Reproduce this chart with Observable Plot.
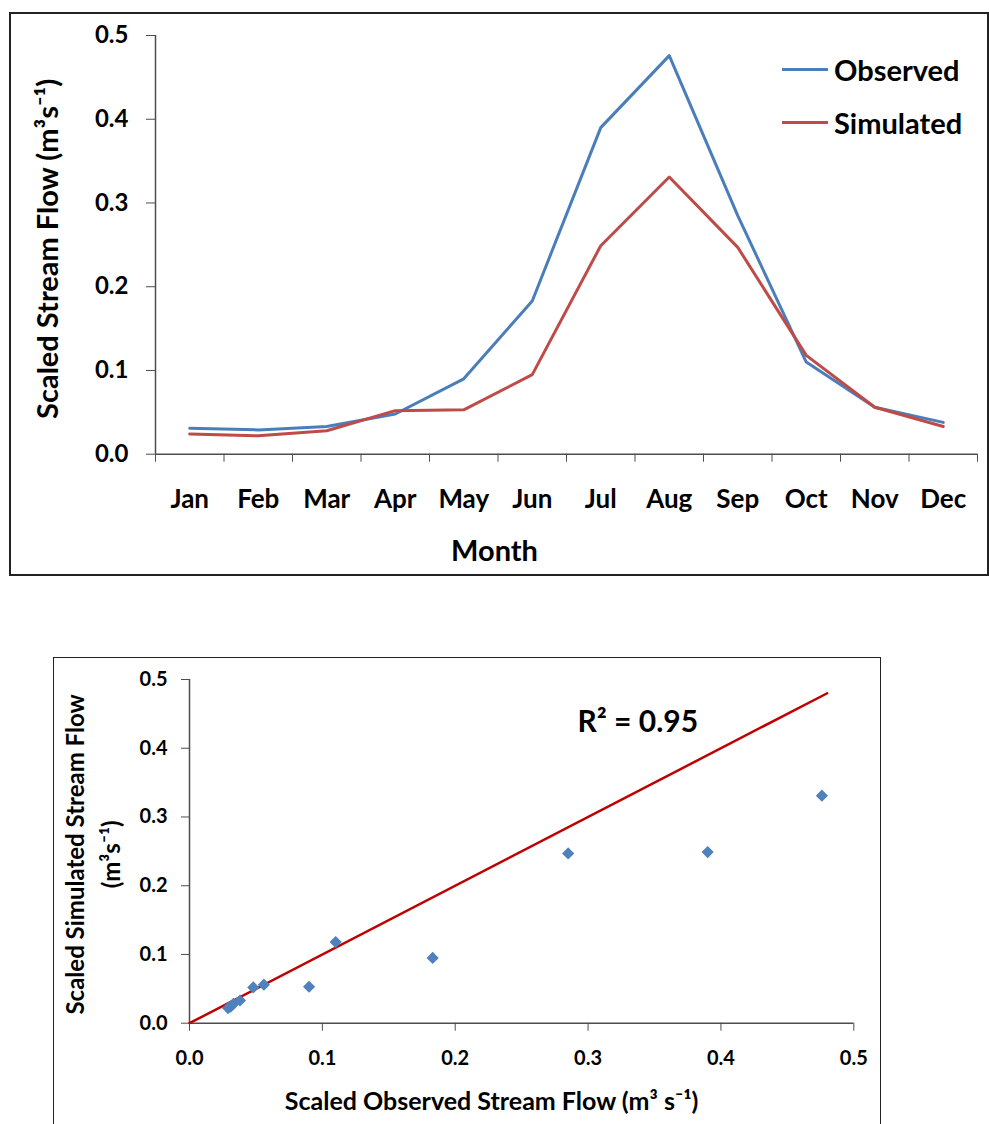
<!DOCTYPE html>
<html>
<head>
<meta charset="utf-8">
<script src="https://cdn.jsdelivr.net/npm/d3@7"></script>
<script src="https://cdn.jsdelivr.net/npm/@observablehq/plot@0.6"></script>
<style>
  body { margin: 0; background: #fff; width: 989px; height: 1124px; overflow: hidden; position: relative; font-family: Lato, sans-serif; }
  .abs { position: absolute; }
  .box { position: absolute; box-sizing: border-box; pointer-events: none; }
  .legend { position: absolute; left: 782px; top: 43px; font-family: Lato, sans-serif; font-weight: bold; font-size: 29px; color: #000; }
  .legend .row { display: flex; align-items: center; height: 53px; }
  .legend .swatch { width: 46px; height: 3px; margin-right: 6px; }
</style>
</head>
<body>
<div id="top" class="abs" style="left:0;top:0"></div>
<div id="bottom" class="abs" style="left:0;top:640px"></div>
<div class="box" style="left:9px;top:12px;width:980px;height:564px;border:2px solid #222"></div>
<div class="box" style="left:53px;top:657px;width:828px;height:520px;border:1.5px solid #222"></div>
<div class="legend">
  <div class="row"><span class="swatch" style="background:#4a7ebb"></span>Observed</div>
  <div class="row"><span class="swatch" style="background:#be4b48"></span>Simulated</div>
</div>
<script>
const months = ["Jan","Feb","Mar","Apr","May","Jun","Jul","Aug","Sep","Oct","Nov","Dec"];
const observed  = [0.031, 0.029, 0.033, 0.048, 0.090, 0.183, 0.390, 0.476, 0.285, 0.110, 0.056, 0.038];
const simulated = [0.024, 0.022, 0.028, 0.052, 0.053, 0.095, 0.249, 0.331, 0.247, 0.118, 0.056, 0.033];
const yTicks = [0, 0.1, 0.2, 0.3, 0.4, 0.5];
const xTicksScatter = [0, 0.1, 0.2, 0.3, 0.4, 0.5];
const oneToOne = [0, 0.48];
const r2Label = "R² = 0.95";

const rows = months.map((m, i) => ({month: m, i, obs: observed[i], sim: simulated[i]}));
const fitLine = oneToOne.map(v => ({x: v, y: v}));
const axisColor = "#4d4d4d";

const topChart = Plot.plot({
  width: 989, height: 590,
  marginLeft: 155, marginRight: 12, marginTop: 35, marginBottom: 136.3,
  style: {fontFamily: "Lato, sans-serif", fontWeight: "bold", color: "#000", background: "transparent", overflow: "visible"},
  x: {domain: [0, months.length], label: null},
  y: {domain: [0, 0.5], label: null},
  marks: [
    Plot.axisY({ticks: yTicks, tickFormat: d => d.toFixed(1), tickSize: 9, tickPadding: 18, fontSize: 24, stroke: axisColor, fill: "#000", label: null}),
    Plot.axisX({ticks: d3.range(months.length + 1), tickFormat: () => "", tickSize: 8, stroke: axisColor, label: null}),
    Plot.axisX({ticks: months.map((m, i) => i + 0.5), tickFormat: d => months[Math.floor(d)], tickSize: 0, tickPadding: 35, fontSize: 26, fill: "#000", label: null}),
    Plot.ruleX([0], {stroke: axisColor, strokeWidth: 1.5}),
    Plot.ruleY([0], {stroke: axisColor, strokeWidth: 1.5}),
    Plot.line(rows, {x: d => d.i + 0.5, y: "obs", stroke: "#4a7ebb", strokeWidth: 3}),
    Plot.line(rows, {x: d => d.i + 0.5, y: "sim", stroke: "#be4b48", strokeWidth: 3}),
    Plot.text(["Scaled Stream Flow (m³s⁻¹)"], {frameAnchor: "left", textAnchor: "middle", lineAnchor: "middle", rotate: -90, dx: -107, dy: 4, fontSize: 29, fill: "#000"}),
    Plot.text(["Month"], {frameAnchor: "bottom", textAnchor: "middle", lineAnchor: "middle", dx: -72, dy: 98, fontSize: 29, fill: "#000"})
  ]
});
document.getElementById("top").appendChild(topChart);

const bottomChart = Plot.plot({
  width: 989, height: 484,
  marginLeft: 189, marginRight: 135.7, marginTop: 39, marginBottom: 101.3,
  style: {fontFamily: "Lato, sans-serif", fontWeight: "bold", color: "#000", background: "transparent", overflow: "visible"},
  x: {domain: [0, 0.5], label: null},
  y: {domain: [0, 0.5], label: null},
  marks: [
    Plot.axisY({ticks: yTicks, tickFormat: d => d.toFixed(1), tickSize: 8, tickPadding: 14, fontSize: 20, stroke: axisColor, fill: "#000", label: null}),
    Plot.axisX({ticks: xTicksScatter, tickFormat: d => d.toFixed(1), tickSize: 8, tickPadding: 20, fontSize: 20, stroke: axisColor, fill: "#000", label: null}),
    Plot.ruleX([0], {stroke: axisColor, strokeWidth: 1.5}),
    Plot.ruleY([0], {stroke: axisColor, strokeWidth: 1.5}),
    Plot.line(fitLine, {x: "x", y: "y", stroke: "#c00000", strokeWidth: 2.5}),
    Plot.dot(rows, {x: "obs", y: "sim", symbol: "diamond2", r: 5.5, fill: "#4f81bd", stroke: "none"}),
    Plot.text([r2Label], {frameAnchor: "top-left", textAnchor: "start", lineAnchor: "middle", dx: 388, dy: 43, fontSize: 30, fill: "#000"}),
    Plot.text(["Scaled Simulated Stream Flow\n(m³s⁻¹)"], {frameAnchor: "left", textAnchor: "middle", lineAnchor: "middle", rotate: -90, dx: -99, dy: 3, lineHeight: 1.5, fontSize: 24, fill: "#000"}),
    Plot.text(["Scaled Observed Stream Flow (m³ s⁻¹)"], {frameAnchor: "bottom", textAnchor: "middle", lineAnchor: "middle", dx: -30, dy: 79, fontSize: 25, fill: "#000"})
  ]
});
document.getElementById("bottom").appendChild(bottomChart);
</script>
</body>
</html>
